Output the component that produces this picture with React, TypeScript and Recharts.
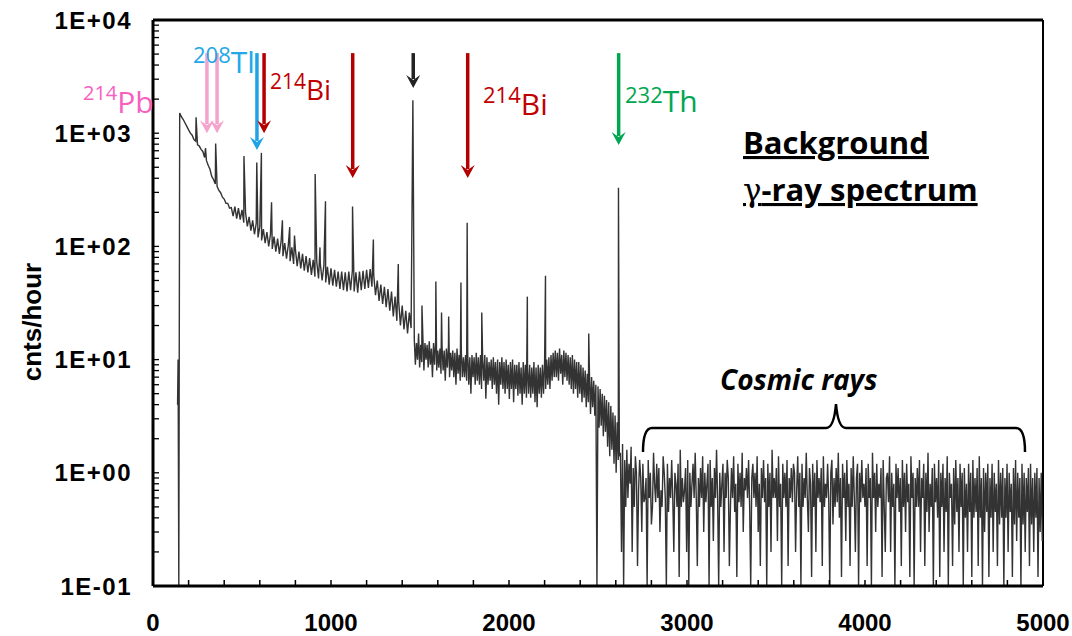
import React from 'react';
import { LineChart, Line, XAxis, YAxis, ReferenceLine } from 'recharts';

// spectrum: energy in keV, counts per hour
const leadEnergies = [138, 141, 145];
const leadCounts = [4, 10, 0.1];

const lowStartKeV = 150;
const lowStepKeV = 10;
const lowCounts = [
  1510, 1390, 1320, 1230, 1150, 1070, 1000, 960, 880, 850,
  790, 770, 720, 690, 610, 575, 520, 480, 415, 390,
  355, 340, 312, 298, 272, 262, 240, 240, 218, 220,
  185, 225, 176, 218, 172, 210, 162, 198, 150, 182,
  138, 170, 128, 160, 120, 150, 113, 142, 107, 134,
  100, 128, 95, 122, 90, 117, 86, 112, 82, 107,
  78, 102, 74, 98, 70, 94, 67, 90, 64, 86,
  61, 82, 59, 79, 56, 76, 54, 73, 52, 70,
  50, 68, 48, 66, 46, 64, 45, 62, 44, 60,
  42, 60, 41, 59, 40, 60, 41, 61, 40, 59,
  39, 60, 41, 61, 42, 62, 43, 63, 44, 56,
  37, 50, 33, 46, 31, 44, 29, 42, 27, 40,
  24, 36, 22, 33, 20, 30, 18.5, 27, 17, 26,
  19,
];

const midStartKeV = 1468;
const midStepKeV = 6;
const midCounts = [
  15, 9, 14, 10, 17, 8.5, 13.5, 9.5, 16, 8, 14, 10,
  13.5, 8.5, 14.5, 9, 12.5, 7, 14, 9, 15, 8, 12, 8.5,
  12.5, 7.5, 13, 8, 12, 6.5, 12.5, 8.5, 13.5, 7, 11.5, 8,
  12, 7, 11.5, 6, 12.5, 7.5, 11, 6.5, 12, 7, 10.5, 7,
  11, 6.5, 11.5, 6, 10.5, 5, 11, 7, 10.5, 6, 11.5, 6.5,
  10.5, 6, 11, 5.5, 10, 6.5, 11, 4.5, 10.5, 6, 9.5, 6.5,
  10, 5.5, 10.5, 6, 9.5, 5, 10, 4, 9.5, 6, 10.5, 5.5,
  9.5, 5, 10, 5.5, 9, 4.5, 9.5, 5.5, 10, 4.2, 9, 5.5,
  9, 4.8, 9.5, 5, 8.5, 4, 9.5, 5, 9, 4.6, 8.5, 5,
  9, 4.6, 8.5, 5, 9.5, 4.2, 8.5, 3.8, 9, 5, 8.5, 4.6,
  9, 5, 9.5, 5.5, 10, 6, 10.5, 5.5, 11, 6.5, 11.5, 7,
  12, 7, 11.5, 6.5, 12.5, 7.5, 11, 6, 12, 7, 11.5, 6.5,
  11, 6, 10.5, 5.5, 11, 5, 10, 5.5, 9.5, 4.6, 9.5, 5,
  9, 4.2, 8.5, 4.6, 8, 3.8, 7.5, 4.2, 7.5, 3.3, 7, 3.8,
  6.5, 3.2, 6, 0.1, 5.8, 2.5, 5.5, 2.6, 5, 2.1, 4.8, 2.3,
  4.4, 1.7, 4.2, 1.4, 3.9, 1.6, 3.4, 1.2, 3.2, 1.0, 2.8, 1.3,
  1.4,
];

const cosmicStartKeV = 2626;
const cosmicStepKeV = 6;
const cosmicCounts = [
  1.5, 0.2, 1.8, 0.1, 1.3, 0.5, 1.6, 0.6, 1.2, 0.8, 1.7, 0.2,
  1.1, 0.5, 1.4, 1.0, 0.15, 0.7, 1.3, 0.9, 0.3, 1.2, 0.55, 0.6,
  0.9, 0.1, 1.3, 0.6, 1.0, 0.35, 0.5, 1.5, 0.8, 0.55, 1.2, 0.6,
  1.1, 0.3, 0.7, 0.5, 1.4, 1.0, 0.6, 0.1, 1.2, 0.45, 0.9, 0.6,
  1.3, 0.6, 0.2, 1.0, 0.8, 0.5, 1.2, 0.12, 1.6, 0.5, 0.9, 0.55,
  0.7, 1.1, 0.2, 1.3, 0.1, 1.0, 0.5, 0.8, 1.2, 0.6, 1.5, 0.6,
  0.15, 0.9, 0.5, 1.1, 0.6, 1.4, 0.3, 1.0, 0.55, 0.8, 1.2, 0.1,
  1.3, 0.5, 0.9, 0.25, 1.1, 0.6, 1.6, 0.6, 0.1, 1.0, 0.5, 0.8,
  1.2, 0.2, 1.0, 0.6, 1.3, 0.9, 0.15, 0.5, 1.1, 0.6, 1.4, 0.45,
  0.8, 0.12, 1.2, 0.55, 1.0, 0.5, 1.5, 0.3, 0.9, 0.7, 1.1, 0.6,
  1.3, 0.5, 0.1, 0.9, 1.2, 0.6, 1.0, 0.5, 1.4, 0.3, 0.8, 0.15,
  1.1, 0.6, 1.3, 0.55, 0.9, 0.1, 1.2, 0.5, 1.0, 0.2, 1.6, 0.6,
  0.9, 0.6, 1.1, 0.25, 1.4, 0.5, 0.8, 0.1, 1.2, 0.6, 1.0, 0.5,
  1.3, 0.15, 0.9, 0.6, 1.1, 0.55, 1.2, 1.0, 0.2, 0.7, 1.4, 0.5,
  1.0, 0.1, 1.2, 0.5, 0.9, 0.6, 1.5, 0.6, 0.3, 1.1, 0.8, 0.12,
  1.2, 0.5, 1.0, 0.2, 1.3, 0.6, 0.9, 0.55, 1.1, 0.15, 1.4, 0.5,
  0.8, 0.6, 1.2, 0.6, 0.1, 1.0, 1.3, 0.35, 0.9, 0.5, 1.1, 0.55,
  1.5, 0.4, 0.9, 0.12, 1.2, 0.6, 1.0, 0.25, 1.3, 0.5, 0.8, 0.15,
  1.1, 0.5, 1.4, 0.6, 0.2, 0.9, 1.2, 0.1, 1.0, 0.55, 1.3, 0.6,
  0.8, 0.5, 1.1, 0.15, 1.2, 0.6, 0.9, 0.1, 1.5, 0.6, 1.0, 0.3,
  1.2, 0.5, 0.8, 0.6, 1.1, 0.12, 1.3, 0.5, 0.2, 0.9, 1.0, 0.55,
  1.4, 0.2, 1.0, 0.5, 0.8, 0.1, 1.2, 0.6, 1.1, 0.45, 0.9, 0.15,
  1.3, 0.5, 1.0, 0.3, 1.2, 0.55, 0.8, 0.12, 1.4, 0.6, 1.0, 0.1,
  0.9, 0.5, 1.1, 0.5, 1.3, 0.2, 0.9, 0.6, 1.2, 0.15, 1.0, 0.45,
  1.5, 0.3, 0.8, 0.5, 1.1, 0.1, 1.2, 0.55, 0.9, 0.4, 1.3, 0.12,
  1.0, 0.5, 1.2, 0.2, 0.9, 0.45, 1.4, 0.1, 1.0, 0.6, 0.8, 0.15,
  1.1, 0.35, 1.3, 0.45, 0.9, 0.2, 1.2, 0.5, 1.0, 0.1, 1.1, 0.4,
  0.8, 0.2, 1.2, 0.45, 1.0, 0.12, 1.3, 0.4, 0.9, 0.45, 1.1, 0.15,
  1.4, 0.4, 0.9, 0.1, 1.1, 0.3, 1.0, 0.45, 1.2, 0.12, 0.9, 0.4,
  1.2, 0.2, 1.0, 0.45, 0.8, 0.15, 1.3, 0.35, 1.0, 0.4, 1.1, 0.1,
  0.9, 0.4, 1.2, 0.2, 1.0, 0.45, 0.8, 0.12, 1.1, 0.35, 1.3, 0.25,
  1.0, 0.4, 0.9, 0.1, 1.2, 0.35, 1.0, 0.2, 0.9, 0.45, 1.1, 0.15,
  1.2, 0.35, 0.9, 0.2, 1.0, 0.4, 1.1, 0.12, 0.9, 0.3, 1.0, 0.25,
];

// photopeaks
const peakEnergies = [242, 295, 352, 511, 583, 609, 666, 727, 768, 795, 911, 938, 969, 1121, 1238, 1378, 1460, 1511, 1589, 1621, 1661, 1730, 1765, 1847, 2103, 2205, 2448, 2615];
const peakCounts = [1380, 740, 810, 630, 550, 670, 245, 170, 148, 125, 435, 98, 250, 225, 115, 70, 1950, 30, 49, 26, 24, 48, 162, 26, 36, 55, 17, 330];

// arrows marking lines
const markerEnergies = [303, 360, 584, 624, 1122, 1462, 1768, 2616];
const markerTips = [1000, 1000, 711, 1000, 402, 2507, 402, 787];
const markerTop = 5100;
const markerColors = ['#f4a3cc', '#f4a3cc', '#1ea4e6', '#b30000', '#b30000', '#222222', '#b30000', '#00a651'];

const xTicks = [0, 200, 400, 600, 800, 1000, 1200, 1400, 1600, 1800, 2000, 2200, 2400, 2600, 2800, 3000, 3200, 3400, 3600, 3800, 4000, 4200, 4400, 4600, 4800, 5000];
const yMajor = [0.1, 1, 10, 100, 1000, 10000];
const yLabels = ['1E-01', '1E+00', '1E+01', '1E+02', '1E+03', '1E+04'];
const yMinor = [
  0.2, 0.3, 0.4, 0.5, 0.6, 0.7, 0.8, 0.9,
  2, 3, 4, 5, 6, 7, 8, 9,
  20, 30, 40, 50, 60, 70, 80, 90,
  200, 300, 400, 500, 600, 700, 800, 900,
  2000, 3000, 4000, 5000, 6000, 7000, 8000, 9000,
];

const spectrum = [
  ...leadEnergies.map((e, i) => ({ energy: e, counts: leadCounts[i] })),
  ...lowCounts.map((c, i) => ({ energy: lowStartKeV + i * lowStepKeV, counts: c })),
  ...midCounts.map((c, i) => ({ energy: midStartKeV + i * midStepKeV, counts: c })),
  ...cosmicCounts.map((c, i) => ({ energy: cosmicStartKeV + i * cosmicStepKeV, counts: c })),
  ...peakEnergies.map((e, i) => ({ energy: e, counts: peakCounts[i] })),
].sort((a, b) => a.energy - b.energy);

const axisFont = { fontFamily: '"Liberation Sans", Arial, sans-serif', fontWeight: 700, fontSize: 24, fill: '#000' };
const noteFont = '"Open Sans", "Noto Sans", sans-serif';

const XTick = ({ x, y, payload }: any) => (
  <g>
    <line x1={x} y1={y} x2={x} y2={y - 6} stroke="#000" strokeWidth={1.5} />
    {payload.value % 1000 === 0 && (
      <text x={x} y={y + 45} textAnchor="middle" {...axisFont}>
        {payload.value}
      </text>
    )}
  </g>
);

const YTick = ({ x, y, payload }: any) => {
  const idx = yMajor.indexOf(payload.value);
  return (
    <g>
      <line x1={x} y1={y} x2={x + 6} y2={y} stroke="#000" strokeWidth={1.3} />
      {idx >= 0 && (
        <text x={x - 21} y={y + 8.5} textAnchor="end" letterSpacing={1.5} {...axisFont}>
          {yLabels[idx]}
        </text>
      )}
    </g>
  );
};

const Arrow = (props: any) => {
  const { x1, y1, y2, color } = props;
  const top = Math.min(y1, y2);
  const tip = Math.max(y1, y2);
  const hw = 7;
  const hh = 13;
  return (
    <g>
      <line x1={x1} y1={top} x2={x1} y2={tip - hh + 4} stroke={color} strokeWidth={3.5} />
      <path d={`M${x1},${tip} L${x1 - hw},${tip - hh} L${x1},${tip - hh + 5} L${x1 + hw},${tip - hh} Z`} fill={color} />
    </g>
  );
};

const Iso = ({ x, y, mass, sym, color, small = 22, big = 30, drop = 11 }: any) => (
  <text x={x} y={y} fill={color} fontFamily={noteFont}>
    <tspan fontSize={small} dy={-drop}>{mass}</tspan>
    <tspan fontSize={big} dy={drop}>{sym}</tspan>
  </text>
);

export default function App() {
  return (
    <div style={{ position: 'absolute', left: 0, top: 0, width: 1072, height: 636, background: '#fff' }}>
      <LineChart width={1072} height={636} data={spectrum} margin={{ top: 20, right: 29, bottom: 10, left: 93 }}>
        <XAxis
          type="number"
          dataKey="energy"
          domain={[0, 5000]}
          ticks={xTicks}
          interval={0}
          allowDataOverflow
          height={40}
          tickSize={0}
          tickMargin={0}
          tickLine={false}
          tick={(p: any) => <XTick {...p} />}
          axisLine={{ stroke: '#000', strokeWidth: 3 }}
        />
        <YAxis
          type="number"
          scale="log"
          domain={[0.1, 10000]}
          ticks={[...yMajor, ...yMinor]}
          interval={0}
          allowDataOverflow
          width={60}
          tickSize={0}
          tickMargin={0}
          tickLine={false}
          tick={(p: any) => <YTick {...p} />}
          axisLine={{ stroke: '#000', strokeWidth: 3 }}
        />
        <ReferenceLine y={10000} stroke="#000" strokeWidth={3} />
        <ReferenceLine x={5000} stroke="#000" strokeWidth={2} />
        <Line
          type="linear"
          dataKey="counts"
          stroke="#333333"
          strokeWidth={1.4}
          dot={false}
          isAnimationActive={false}
        />
        {markerEnergies.map((e, i) => (
          <ReferenceLine
            key={e}
            segment={[{ x: e, y: markerTop }, { x: e, y: markerTips[i] }]}
            shape={(p: any) => <Arrow {...p} color={markerColors[i]} />}
          />
        ))}
      </LineChart>

      <svg width={1072} height={636} style={{ position: 'absolute', left: 0, top: 0, pointerEvents: 'none' }}>
        <text
          transform="rotate(-90, 41, 322)"
          x={41}
          y={322}
          textAnchor="middle"
          fontFamily='"Liberation Sans", Arial, sans-serif'
          fontWeight={700}
          fontSize={26}
        >
          cnts/hour
        </text>

        <Iso x={83} y={113} mass="214" sym="Pb" color="#f760c0" small={20} big={30} drop={13} />
        <Iso x={193} y={73} mass="208" sym="Tl" color="#22a7e8" small={22} big={30} drop={10} />
        <Iso x={270} y={100} mass="214" sym="Bi" color="#c00000" small={21} big={28} drop={11} />
        <Iso x={483} y={115} mass="214" sym="Bi" color="#c00000" small={22} big={30} drop={12} />
        <Iso x={625} y={112} mass="232" sym="Th" color="#00a651" small={22} big={30} drop={9} />

        <text x={743} y={154} fontFamily={noteFont} fontWeight={700} fontSize={31} style={{ textDecoration: 'underline' }}>
          Background
        </text>
        <text x={743} y={201} fontFamily={noteFont} fontWeight={700} fontSize={31} style={{ textDecoration: 'underline' }}>
          <tspan fontFamily='"DejaVu Serif", serif' fontWeight={400}>γ</tspan>-ray spectrum
        </text>

        <text x={720} y={390} fontFamily={noteFont} fontWeight={700} fontStyle="italic" fontSize={28}>
          Cosmic rays
        </text>
        <path
          d="M643,452 Q643,428 652,428 L826,428 Q834,428 836,404 Q838,428 846,428 L1016,428 Q1025,428 1025,452"
          fill="none"
          stroke="#000"
          strokeWidth={2.5}
        />
      </svg>
    </div>
  );
}
